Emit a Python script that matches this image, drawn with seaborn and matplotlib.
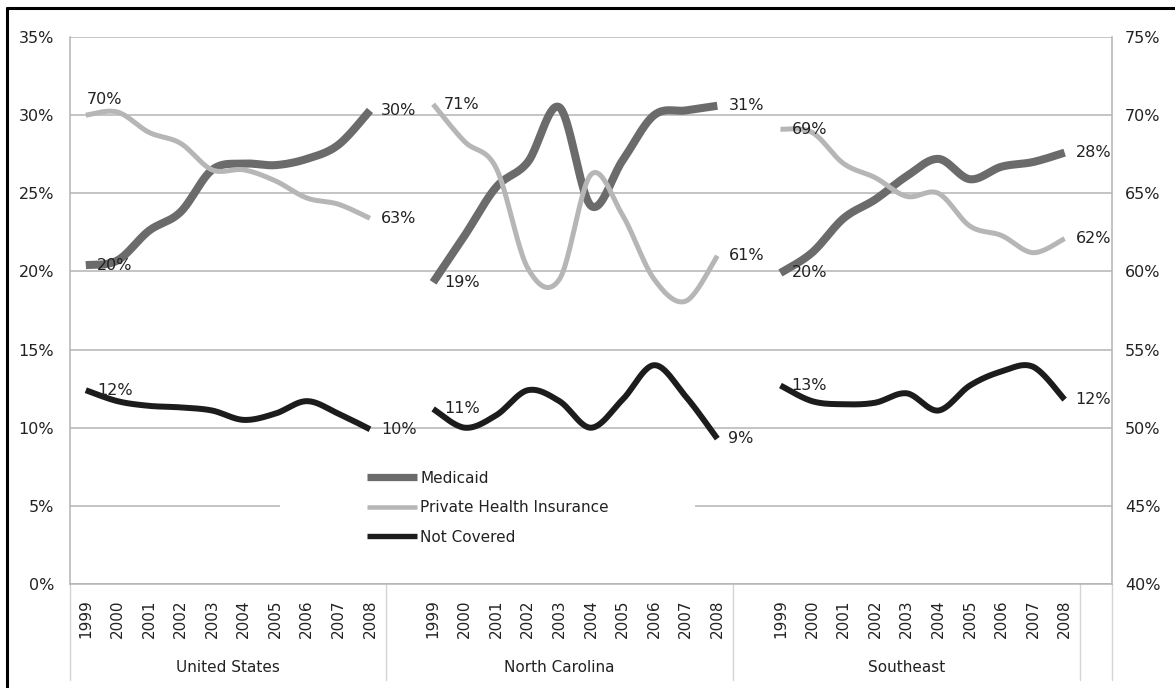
import numpy as np
import matplotlib
matplotlib.use('Agg')
import matplotlib.pyplot as plt
import matplotlib.transforms as mtransforms
from matplotlib.lines import Line2D
from matplotlib.patches import Rectangle
import seaborn as sns

# data (percent)
years = [1999, 2000, 2001, 2002, 2003, 2004, 2005, 2006, 2007, 2008]
regions = ['United States', 'North Carolina', 'Southeast']
series_names = ['Medicaid', 'Private Health Insurance', 'Not Covered']

medicaid_us = [20.4, 20.7, 22.6, 23.8, 26.5, 26.9, 26.8, 27.2, 28.1, 30.3]
private_us = [70.0, 70.2, 68.9, 68.2, 66.5, 66.5, 65.8, 64.7, 64.3, 63.4]
notcov_us = [12.4, 11.7, 11.4, 11.3, 11.1, 10.5, 10.9, 11.7, 10.9, 9.9]

medicaid_nc = [19.3, 22.3, 25.4, 27.0, 30.5, 24.2, 27.1, 30.0, 30.3, 30.6]
private_nc = [70.7, 68.3, 66.6, 60.2, 59.5, 66.2, 63.6, 59.5, 58.1, 61.0]
notcov_nc = [11.2, 10.0, 10.8, 12.4, 11.7, 10.0, 11.8, 14.0, 12.0, 9.3]

medicaid_se = [19.9, 21.2, 23.4, 24.6, 26.1, 27.2, 25.9, 26.7, 27.0, 27.6]
private_se = [69.1, 68.9, 66.9, 66.0, 64.8, 65.0, 62.9, 62.3, 61.2, 62.1]
notcov_se = [12.7, 11.7, 11.5, 11.6, 12.2, 11.1, 12.7, 13.6, 13.9, 11.8]

medicaid = [medicaid_us, medicaid_nc, medicaid_se]
private = [private_us, private_nc, private_se]
notcov = [notcov_us, notcov_nc, notcov_se]

colors = {'Medicaid': '#6b6b6b', 'Private Health Insurance': '#b6b6b6', 'Not Covered': '#1c1c1c'}
widths = {'Medicaid': 5.8, 'Private Health Insurance': 3.6, 'Not Covered': 4.3}
text_color = '#222222'


def smooth(xs, ys, steps=24):
    # excel style smoothed line (catmull-rom through the points)
    pts = np.column_stack([xs, ys]).astype(float)
    pts = np.vstack([pts[0], pts, pts[-1]])
    t = np.linspace(0, 1, steps, endpoint=False)[:, None]
    out = []
    for i in range(1, len(pts) - 2):
        p0, p1, p2, p3 = pts[i - 1], pts[i], pts[i + 1], pts[i + 2]
        seg = 0.5 * (2 * p1 + (p2 - p0) * t + (2 * p0 - 5 * p1 + 4 * p2 - p3) * t ** 2
                     + (-p0 + 3 * p1 - 3 * p2 + p3) * t ** 3)
        out.append(seg)
    out.append(pts[-2][None, :])
    out = np.vstack(out)
    return out[:, 0], out[:, 1]


sns.set_style('white')
plt.rcParams['font.family'] = ['DejaVu Sans']

W, H = 1175, 688
fig = plt.figure(figsize=(W / 100, H / 100), dpi=100)
ax = fig.add_axes([70 / W, (H - 584) / H, (1112 - 70) / W, (584 - 37) / H])
ax2 = ax.twinx()

ax.set_xlim(-0.5, 32.5)
ax.set_ylim(0, 35)
ax2.set_ylim(40, 75)

ax.set_yticks(range(0, 36, 5))
ax.set_yticklabels([f'{v}%' for v in range(0, 36, 5)])
ax2.set_yticks(range(40, 76, 5))
ax2.set_yticklabels([f'{v}%' for v in range(40, 76, 5)])
ax.tick_params(axis='y', length=0, pad=11.5, labelsize=11.5, labelcolor=text_color)
ax2.tick_params(axis='y', length=0, pad=9.5, labelsize=11.5, labelcolor=text_color)

ax.grid(axis='y', color='#b4b4b4', lw=1.1)
ax.grid(axis='x', visible=False)
ax2.grid(False)
ax.set_axisbelow(True)

for s in ['left', 'right', 'bottom']:
    ax.spines[s].set_color('#b4b4b4')
    ax.spines[s].set_linewidth(1.1)
ax.spines['top'].set_visible(False)
for s in ax2.spines.values():
    s.set_visible(False)

# category slots: 10 years per region then one blank slot
offsets = [11 * r for r in range(len(regions))]
tick_pos = [o + i for o in offsets for i in range(len(years))]
tick_lab = [str(y) for _ in regions for y in years]
ax.set_xticks(tick_pos)
ax.set_xticklabels(tick_lab, rotation=90, fontsize=11, color=text_color)
ax.set_xticks(np.arange(-0.5, 33, 1), minor=True)
ax.tick_params(axis='x', which='major', length=0, pad=11)
ax.tick_params(axis='x', which='minor', length=44, width=1, color='#d4d4d4', direction='out')

trans = mtransforms.blended_transform_factory(ax.transData, ax.transAxes)
for b in [-0.5, 9.5, 20.5, 31.5, 32.5]:
    ax.plot([b, b], [0, -0.175], transform=trans, clip_on=False, color='#d4d4d4', lw=1)
group_centers = [4.5, 15, 26]
for region, cx in zip(regions, group_centers):
    ax.text(cx, -0.152, region, transform=trans, ha='center', va='center',
            fontsize=11, color=text_color)

# white patch behind the legend
ax.add_patch(Rectangle((0.2015, 0.09), 0.3985, 0.11, transform=ax.transAxes,
                       facecolor='white', edgecolor='none', zorder=1))

for r, region in enumerate(regions):
    xs = offsets[r] + np.arange(len(years))
    for name, vals, axis in [('Medicaid', medicaid[r], ax),
                             ('Private Health Insurance', private[r], ax2),
                             ('Not Covered', notcov[r], ax)]:
        sx, sy = smooth(xs, vals)
        sns.lineplot(x=sx, y=sy, ax=axis, color=colors[name], lw=widths[name],
                     sort=False, estimator=None, solid_capstyle='butt', zorder=3)
        # first and last value labels
        first_off = (0.7, 11.5) if (r == 0 and name == 'Private Health Insurance') else (8, 0)
        axis.annotate(f'{vals[0]:.0f}%', (xs[0], vals[0]), xytext=first_off,
                      textcoords='offset points', ha='left', va='center',
                      fontsize=11.5, color=text_color, zorder=4)
        axis.annotate(f'{vals[-1]:.0f}%', (xs[-1], vals[-1]), xytext=(8, 0),
                      textcoords='offset points', ha='left', va='center',
                      fontsize=11.5, color=text_color, zorder=4)

handles = [Line2D([], [], color=colors[n], lw=widths[n] * 0.9, solid_capstyle='butt') for n in series_names]
leg = ax2.legend(handles, series_names, loc='upper left', bbox_to_anchor=(0.285, 0.207),
                 frameon=False, handlelength=3.3, handletextpad=0.2, labelspacing=0.95,
                 fontsize=11, borderpad=0, borderaxespad=0)
for t in leg.get_texts():
    t.set_color(text_color)

# frame lines of the picture (top and left)
fig.add_artist(Line2D([6.5 / W, 6.5 / W], [0, 1 - 7.5 / H], transform=fig.transFigure, color='black', lw=2.2))
fig.add_artist(Line2D([6.5 / W, 1], [1 - 7.5 / H, 1 - 7.5 / H], transform=fig.transFigure, color='black', lw=2.2))

fig.savefig('out.png', dpi=100, facecolor='white')
